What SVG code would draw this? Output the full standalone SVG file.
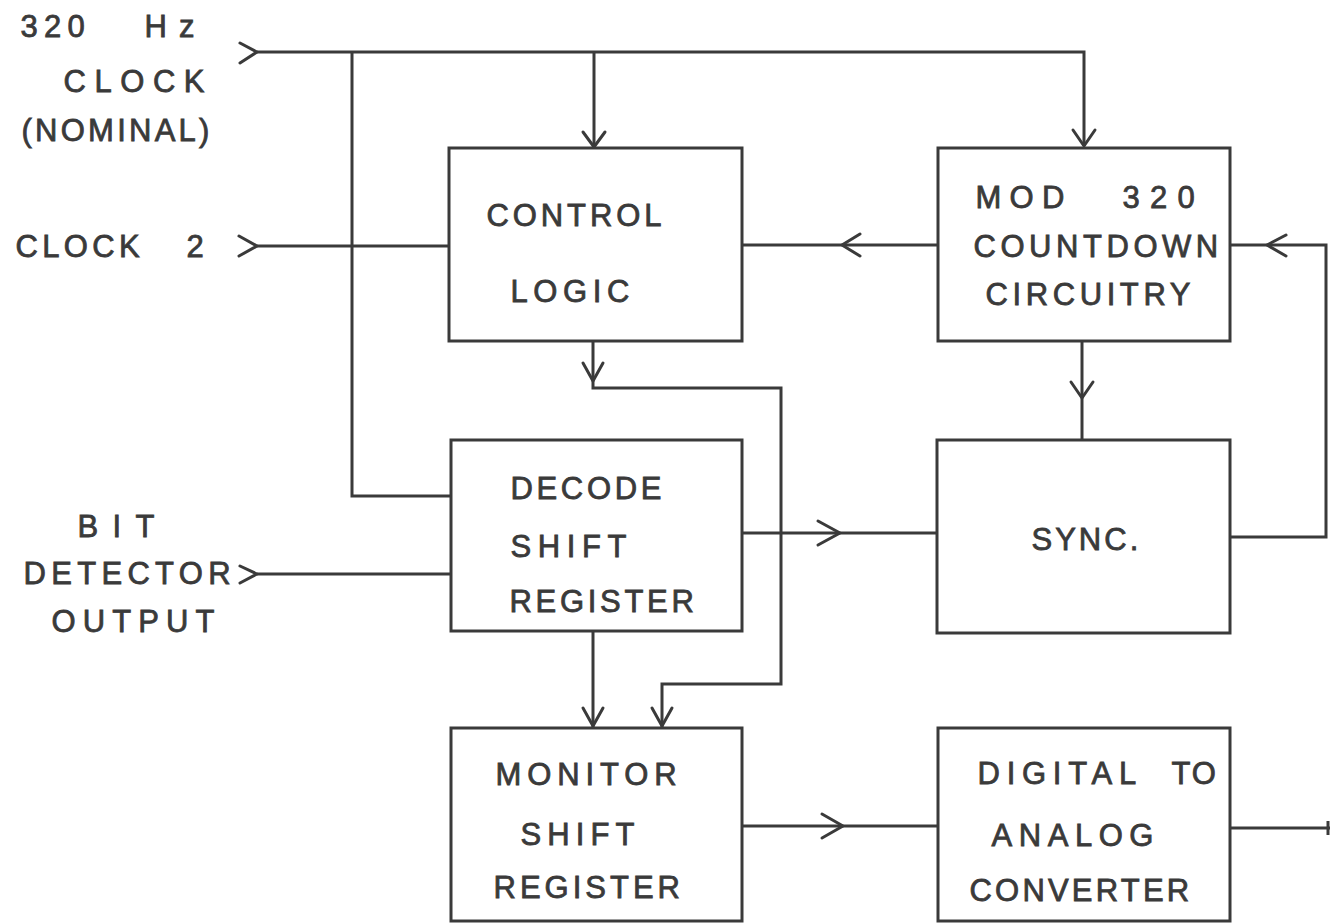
<svg xmlns="http://www.w3.org/2000/svg" width="1330" height="923" viewBox="0 0 1330 923">
  <style>
    .box { fill: #ffffff; stroke: #3a3a3a; stroke-width: 3; }
    .wire { fill: none; stroke: #3a3a3a; stroke-width: 3; stroke-linejoin: miter; }
    .head { fill: none; stroke: #3a3a3a; stroke-width: 3; stroke-linecap: round; stroke-linejoin: round; }
    .lbl { font-family: "Liberation Sans", Arial, sans-serif; font-size: 31px; fill: #3a3a3a; stroke: #3a3a3a; stroke-width: 0.8; }
  </style>
  <rect width="1330" height="923" fill="#ffffff"/>

  <!-- signal wiring -->
  <g id="connectors">
    <!-- 320 Hz clock bus -->
    <path class="head" d="M240,43 L257,52 L240,63"/>
    <path class="wire" d="M257,52 H1084 V146"/>
    <path class="wire" d="M352,52 V496 H451"/>
    <path class="wire" d="M594,52 V147"/>
    <path class="head" d="M583,132 L594,147 L605,132"/>
    <path class="head" d="M1073,130 L1084,146 L1095,130"/>

    <!-- clock 2 input -->
    <path class="head" d="M239,236 L257,246 L239,256"/>
    <path class="wire" d="M257,246 H449"/>

    <!-- countdown to control logic -->
    <path class="wire" d="M938,245 H742"/>
    <path class="head" d="M860,234 L842,245 L860,256"/>

    <!-- sync feedback to countdown -->
    <path class="wire" d="M1230,537 H1326 V245 H1230"/>
    <path class="head" d="M1286,235 L1267,245 L1286,256"/>

    <!-- countdown to sync -->
    <path class="wire" d="M1082,341 V440"/>
    <path class="head" d="M1071,382 L1082,398 L1093,382"/>

    <!-- control logic to monitor register -->
    <path class="wire" d="M593,341 V388 H781 V684 H662 V728"/>
    <path class="head" d="M583,363 L593,381 L603,363"/>
    <path class="head" d="M652,708 L662,726 L672,708"/>

    <!-- decode register to monitor register -->
    <path class="wire" d="M593,631 V728"/>
    <path class="head" d="M583,708 L593,726 L603,708"/>

    <!-- decode register to sync -->
    <path class="wire" d="M742,533 H937"/>
    <path class="head" d="M818,521 L840,533 L818,545"/>

    <!-- bit detector input -->
    <path class="head" d="M240,566 L257,574 L240,583"/>
    <path class="wire" d="M257,574 H451"/>

    <!-- monitor register to D/A -->
    <path class="wire" d="M742,826 H938"/>
    <path class="head" d="M822,814 L843,826 L822,838"/>

    <!-- analog output -->
    <path class="wire" d="M1230,828 H1330"/>
    <path class="wire" d="M1328,821 V835"/>
  </g>

  <!-- input labels -->
  <g id="input-clock">
    <text class="lbl" y="37"><tspan x="20.5" letter-spacing="6.2">320</tspan> <tspan x="144.5" letter-spacing="12.1">Hz</tspan></text>
    <text class="lbl" x="63.5" y="92" letter-spacing="8.55">CLOCK</text>
    <text class="lbl" x="21.5" y="141" letter-spacing="3.25">(NOMINAL)</text>
  </g>
  <g id="input-clock2">
    <text class="lbl" y="257"><tspan x="15.5" letter-spacing="4.35">CLOCK</tspan> <tspan x="186.5">2</tspan></text>
  </g>
  <g id="input-bit">
    <text class="lbl" x="77.5" y="537" letter-spacing="14.4">BIT</text>
    <text class="lbl" x="23.5" y="584" letter-spacing="5.3">DETECTOR</text>
    <text class="lbl" x="51.5" y="632" letter-spacing="7.1">OUTPUT</text>
  </g>

  <!-- blocks -->
  <g id="control-logic">
    <rect class="box" x="449" y="148" width="293" height="193"/>
    <text class="lbl" x="486.5" y="226" letter-spacing="3.9">CONTROL</text>
    <text class="lbl" x="510.5" y="302" letter-spacing="5.6">LOGIC</text>
  </g>
  <g id="mod320-countdown">
    <rect class="box" x="938" y="148" width="292" height="193"/>
    <text class="lbl" y="208"><tspan x="975.5" letter-spacing="8.3">MOD</tspan> <tspan x="1122.5" letter-spacing="10.2">320</tspan></text>
    <text class="lbl" x="973.5" y="257" letter-spacing="4.55">COUNTDOWN</text>
    <text class="lbl" x="985.5" y="305" letter-spacing="4.6">CIRCUITRY</text>
  </g>
  <g id="decode-shift-register">
    <rect class="box" x="451" y="440" width="291" height="191"/>
    <text class="lbl" x="510.5" y="499" letter-spacing="3.65">DECODE</text>
    <text class="lbl" x="510.5" y="557" letter-spacing="6.6">SHIFT</text>
    <text class="lbl" x="509.5" y="612" letter-spacing="3.7">REGISTER</text>
  </g>
  <g id="sync">
    <rect class="box" x="937" y="440" width="293" height="193"/>
    <text class="lbl" x="1031.5" y="550" letter-spacing="3">SYNC.</text>
  </g>
  <g id="monitor-shift-register">
    <rect class="box" x="451" y="728" width="291" height="193"/>
    <text class="lbl" x="495.5" y="785" letter-spacing="5.9">MONITOR</text>
    <text class="lbl" x="520.5" y="845" letter-spacing="6.1">SHIFT</text>
    <text class="lbl" x="493.5" y="898" letter-spacing="4">REGISTER</text>
  </g>
  <g id="dac">
    <rect class="box" x="938" y="728" width="292" height="193"/>
    <text class="lbl" y="784"><tspan x="977.5" letter-spacing="6.75">DIGITAL</tspan> <tspan x="1171.5" letter-spacing="1.9">TO</tspan></text>
    <text class="lbl" x="991.5" y="846" letter-spacing="6.55">ANALOG</text>
    <text class="lbl" x="969.5" y="901" letter-spacing="3.2">CONVERTER</text>
  </g>
</svg>
